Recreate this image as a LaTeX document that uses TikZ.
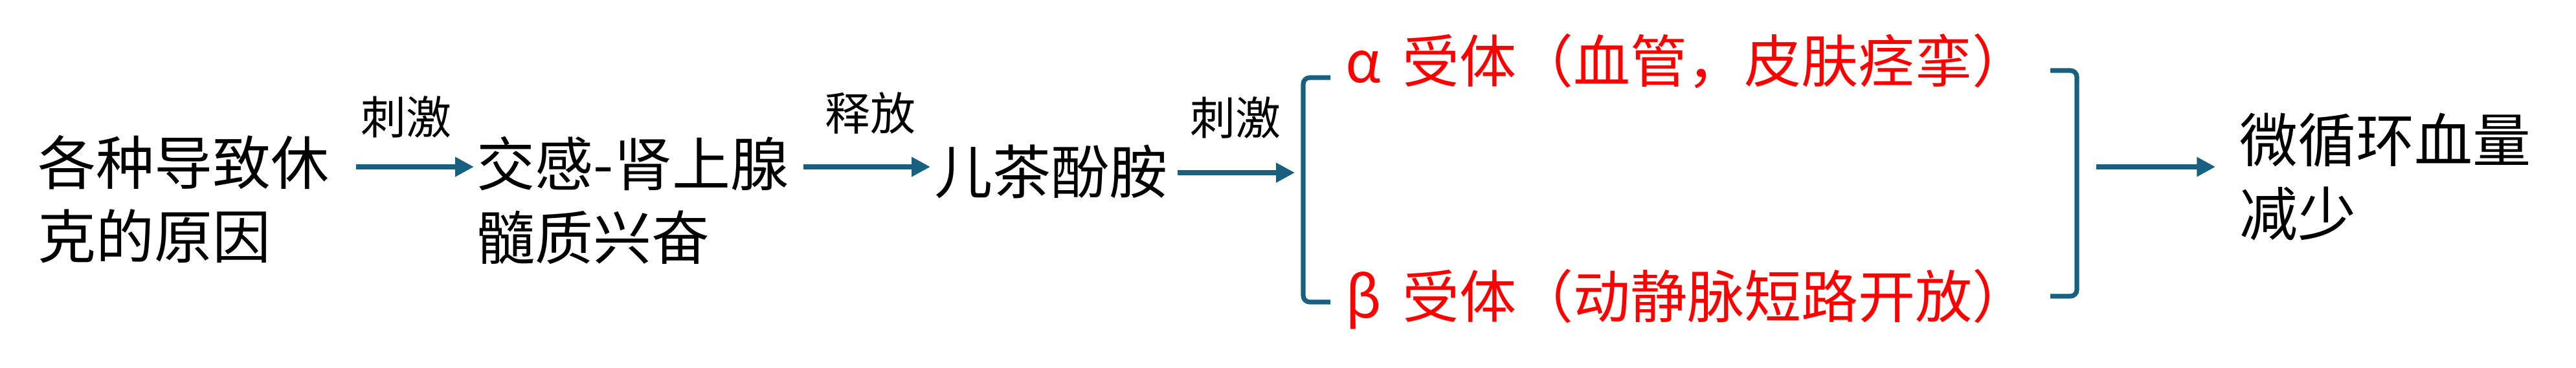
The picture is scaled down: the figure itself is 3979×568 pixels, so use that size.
\documentclass[tikz,border=0pt]{standalone}
\usepackage{fontspec}
\setmainfont{Noto Sans CJK SC}
\usetikzlibrary{arrows.meta}
\definecolor{arrowblue}{RGB}{24,96,128}
\tikzset{
  flowtext/.style={inner sep=0pt, anchor=west, align=left, font=\fontsize{22.5}{28.5}\selectfont},
  lbl/.style={inner sep=0pt, font=\fontsize{17.5}{20}\selectfont},
  redtext/.style={inner sep=0pt, anchor=west, text=red, font=\fontsize{22}{26}\selectfont},
  arr/.style={draw=arrowblue, line width=1.8pt, -{Triangle[length=7.2pt,width=7.2pt]}},
  brk/.style={draw=arrowblue, line width=1.8pt, rounded corners=2.5pt},
}
\begin{document}
\begin{tikzpicture}[x=0.25pt,y=-0.25pt]
\useasboundingbox (0,0) rectangle (3979,568);
% main nodes
\node[flowtext] (A) at (58,308) {各种导致休\\克的原因};
\node[flowtext] (B) at (736,310) {交感-肾上腺\\髓质兴奋};
\node[flowtext] (C) at (1443,265) {儿茶酚胺};
\node[flowtext] (D) at (3459,273) {微循环血量\\减少};
% red receptor lines
\node[redtext] (R1) at (2078,95) {\makebox[1em][l]{α}受体（血管，皮肤痉挛）};
\node[redtext] (R2) at (2078,463) {\makebox[1em][l]{β}受体（动静脉短路开放）};
% brackets
\coordinate (LBm) at (2013,267);
\coordinate (RBm) at (3208,258);
\draw[brk] (2055,120) -- (2013,120) -- (2013,467) -- (2055,467);
\draw[brk] (3167,109) -- (3208,109) -- (3208,458) -- (3167,458);
% arrows
\draw[arr] ([shift={(40,-50)}]A.east) -- ([shift={(-4,-52)}]B.west);
\draw[arr] ([shift={(22,-52)}]B.east) -- ([shift={(-6,-7)}]C.west);
\draw[arr] ([shift={(14,2)}]C.east) -- ([shift={(-13,0)}]LBm);
\draw[arr] ([shift={(30,0)}]RBm) -- ([shift={(-37,-15)}]D.west);
% arrow labels
\node[lbl] (L1) at (627,181) {刺激};
\node[lbl] (L2) at (1344,175) {释放};
\node[lbl] (L3) at (1908,182) {刺激};
\end{tikzpicture}
\end{document}
